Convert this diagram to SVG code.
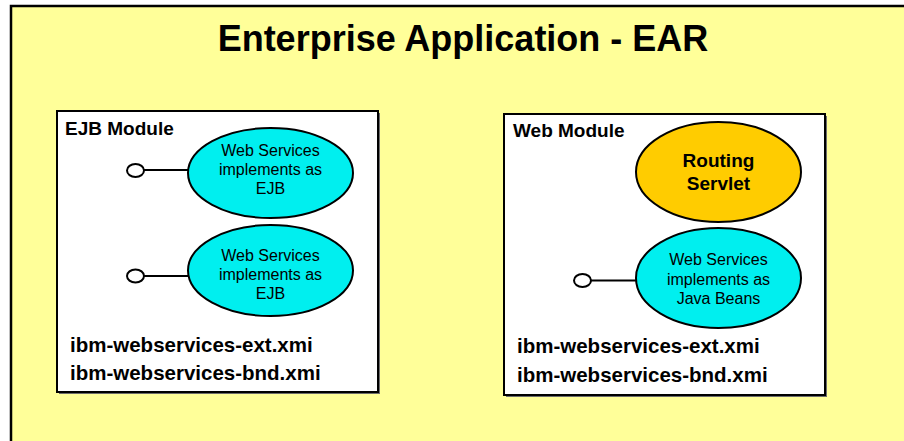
<svg xmlns="http://www.w3.org/2000/svg" width="904" height="441" viewBox="0 0 904 441">
  <style>
    .frame { fill: #FFFF99; stroke: #000; stroke-width: 2.5; }
    .module { fill: #FFFFFF; stroke: #000; stroke-width: 2; }
    .shadow { fill: #6E6E6E; }
    .ws { fill: #00EFEF; stroke: #000; stroke-width: 2; }
    .servlet { fill: #FFCC00; stroke: #000; stroke-width: 2; }
    .port { fill: #FFFFFF; stroke: #000; stroke-width: 2; }
    .wire { stroke: #000; stroke-width: 2; fill: none; }
    text { font-family: "Liberation Sans", Arial, sans-serif; fill: #000; }
    .title { font-size: 36px; font-weight: bold; text-anchor: middle; }
    .mtitle { font-size: 19px; font-weight: bold; }
    .label { font-size: 16px; text-anchor: middle; }
    .blabel { font-size: 19px; font-weight: bold; text-anchor: middle; }
    .file { font-size: 20.5px; font-weight: bold; }
  </style>

  <!-- enterprise application container -->
  <g id="ear">
    <rect class="frame" x="11" y="6" width="910" height="450"/>
    <text class="title" x="463" y="51">Enterprise Application - EAR</text>
  </g>

  <!-- EJB module -->
  <g id="ejb-module">
    <rect class="shadow" x="59" y="113" width="321" height="281"/>
    <rect class="module" x="57" y="111" width="321" height="281"/>
    <text class="mtitle" x="65" y="135">EJB Module</text>
    <text class="file" x="70" y="352">ibm-webservices-ext.xmi</text>
    <text class="file" x="70" y="380">ibm-webservices-bnd.xmi</text>
  </g>

  <g id="ejb-ws-1">
    <ellipse class="ws" cx="270.5" cy="173" rx="82.5" ry="45"/>
    <text class="label" x="270.5" y="156">Web Services</text>
    <text class="label" x="270.5" y="175">implements as</text>
    <text class="label" x="270.5" y="194">EJB</text>
  </g>

  <g id="ejb-ws-2">
    <ellipse class="ws" cx="270.5" cy="270.5" rx="82.5" ry="45.5"/>
    <text class="label" x="270.5" y="261">Web Services</text>
    <text class="label" x="270.5" y="280">implements as</text>
    <text class="label" x="270.5" y="299">EJB</text>
  </g>

  <!-- Web module -->
  <g id="web-module">
    <rect class="shadow" x="506" y="116" width="321" height="281"/>
    <rect class="module" x="504" y="114" width="321" height="281"/>
    <text class="mtitle" x="513" y="137">Web Module</text>
    <text class="file" x="517" y="353">ibm-webservices-ext.xmi</text>
    <text class="file" x="517" y="382">ibm-webservices-bnd.xmi</text>
  </g>

  <g id="routing-servlet">
    <ellipse class="servlet" cx="718.5" cy="172" rx="82.5" ry="50"/>
    <text class="blabel" x="718.5" y="167">Routing</text>
    <text class="blabel" x="718.5" y="190">Servlet</text>
  </g>

  <g id="web-ws">
    <ellipse class="ws" cx="718.5" cy="278" rx="82.5" ry="50"/>
    <text class="label" x="718.5" y="265">Web Services</text>
    <text class="label" x="718.5" y="285">implements as</text>
    <text class="label" x="718.5" y="304">Java Beans</text>
  </g>

  <!-- service endpoints (lollipops) -->
  <g id="connectors">
    <line class="wire" x1="144" y1="170" x2="189" y2="170"/>
    <ellipse class="port" cx="135.5" cy="170.5" rx="8.5" ry="6.5"/>
    <line class="wire" x1="144" y1="276" x2="189" y2="276"/>
    <ellipse class="port" cx="135.5" cy="276" rx="8.5" ry="6.5"/>
    <line class="wire" x1="591" y1="280.5" x2="637" y2="280.5"/>
    <ellipse class="port" cx="582.5" cy="280.5" rx="8.5" ry="6.5"/>
  </g>
</svg>
